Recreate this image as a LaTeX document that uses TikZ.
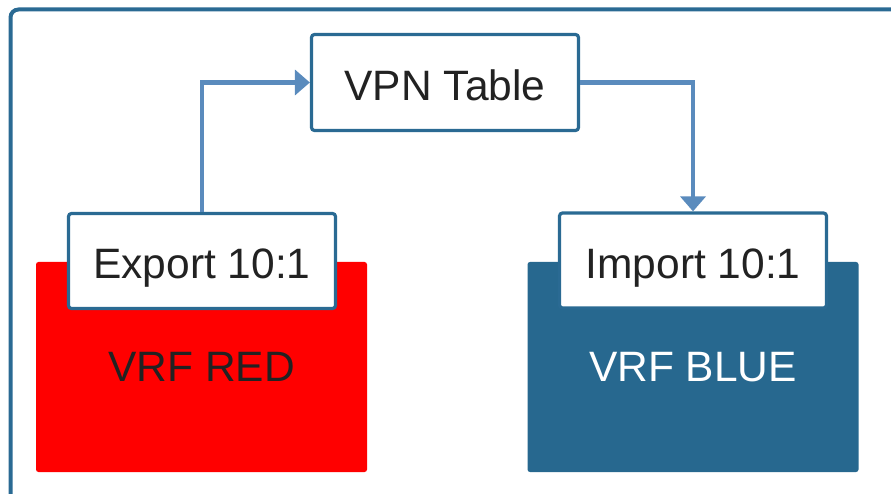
\documentclass[tikz,border=0pt]{standalone}
\usepackage{fontspec}
\setmainfont{Liberation Sans}
\usetikzlibrary{arrows.meta}
\definecolor{frameblue}{HTML}{2A6A93}
\definecolor{vrfblue}{HTML}{27688F}
\definecolor{linkblue}{HTML}{5A8BBD}
\definecolor{vrfred}{HTML}{FF0000}
\definecolor{textdark}{HTML}{222222}
\begin{document}
\begin{tikzpicture}
[x=1pt,y=-1pt,
  tabledecorate/.style={shape=rectangle,draw=frameblue,fill=white,line width=3.2pt,
    rounded corners=3pt,inner sep=0pt,minimum width=267pt,minimum height=95pt,
    text height=35.5pt,text depth=0pt,
    text=textdark,font=\fontsize{42.5}{51}\selectfont},%
  vrfdecorate/.style={shape=rectangle,rounded corners=2.5pt,inner sep=0pt,
    minimum width=331pt,minimum height=210pt,font=\fontsize{42.5}{51}\selectfont},%
  linkdecorate/.style={-{Triangle[length=15pt,width=25pt]},draw=linkblue,line width=4.5pt}]
\useasboundingbox (0,0) rectangle (891,494);
\clip (0,0) rectangle (891,494);
% outer frame
\draw[frameblue,line width=4pt,rounded corners=8pt] (10.5,9.5) rectangle (920,520);
% vrf boxes
\node (red) at (201.5,367) [vrfdecorate,fill=vrfred,text=textdark] {VRF RED};
\node (blue) at (693,367) [vrfdecorate,fill=vrfblue,text=white] {VRF BLUE};
% route target and table boxes
\node (export) at (202,261) [tabledecorate] {Export 10:1};
\node (import) at (693,260.5) [tabledecorate] {Import 10:1};
\node (vpn) at (445,82.5) [tabledecorate,minimum height=96pt] {VPN Table};
% arrows
\draw[linkdecorate] (export.north) |- (vpn.west);
\draw[linkdecorate] (vpn.east) -| (import.north);
\end{tikzpicture}
\end{document}
